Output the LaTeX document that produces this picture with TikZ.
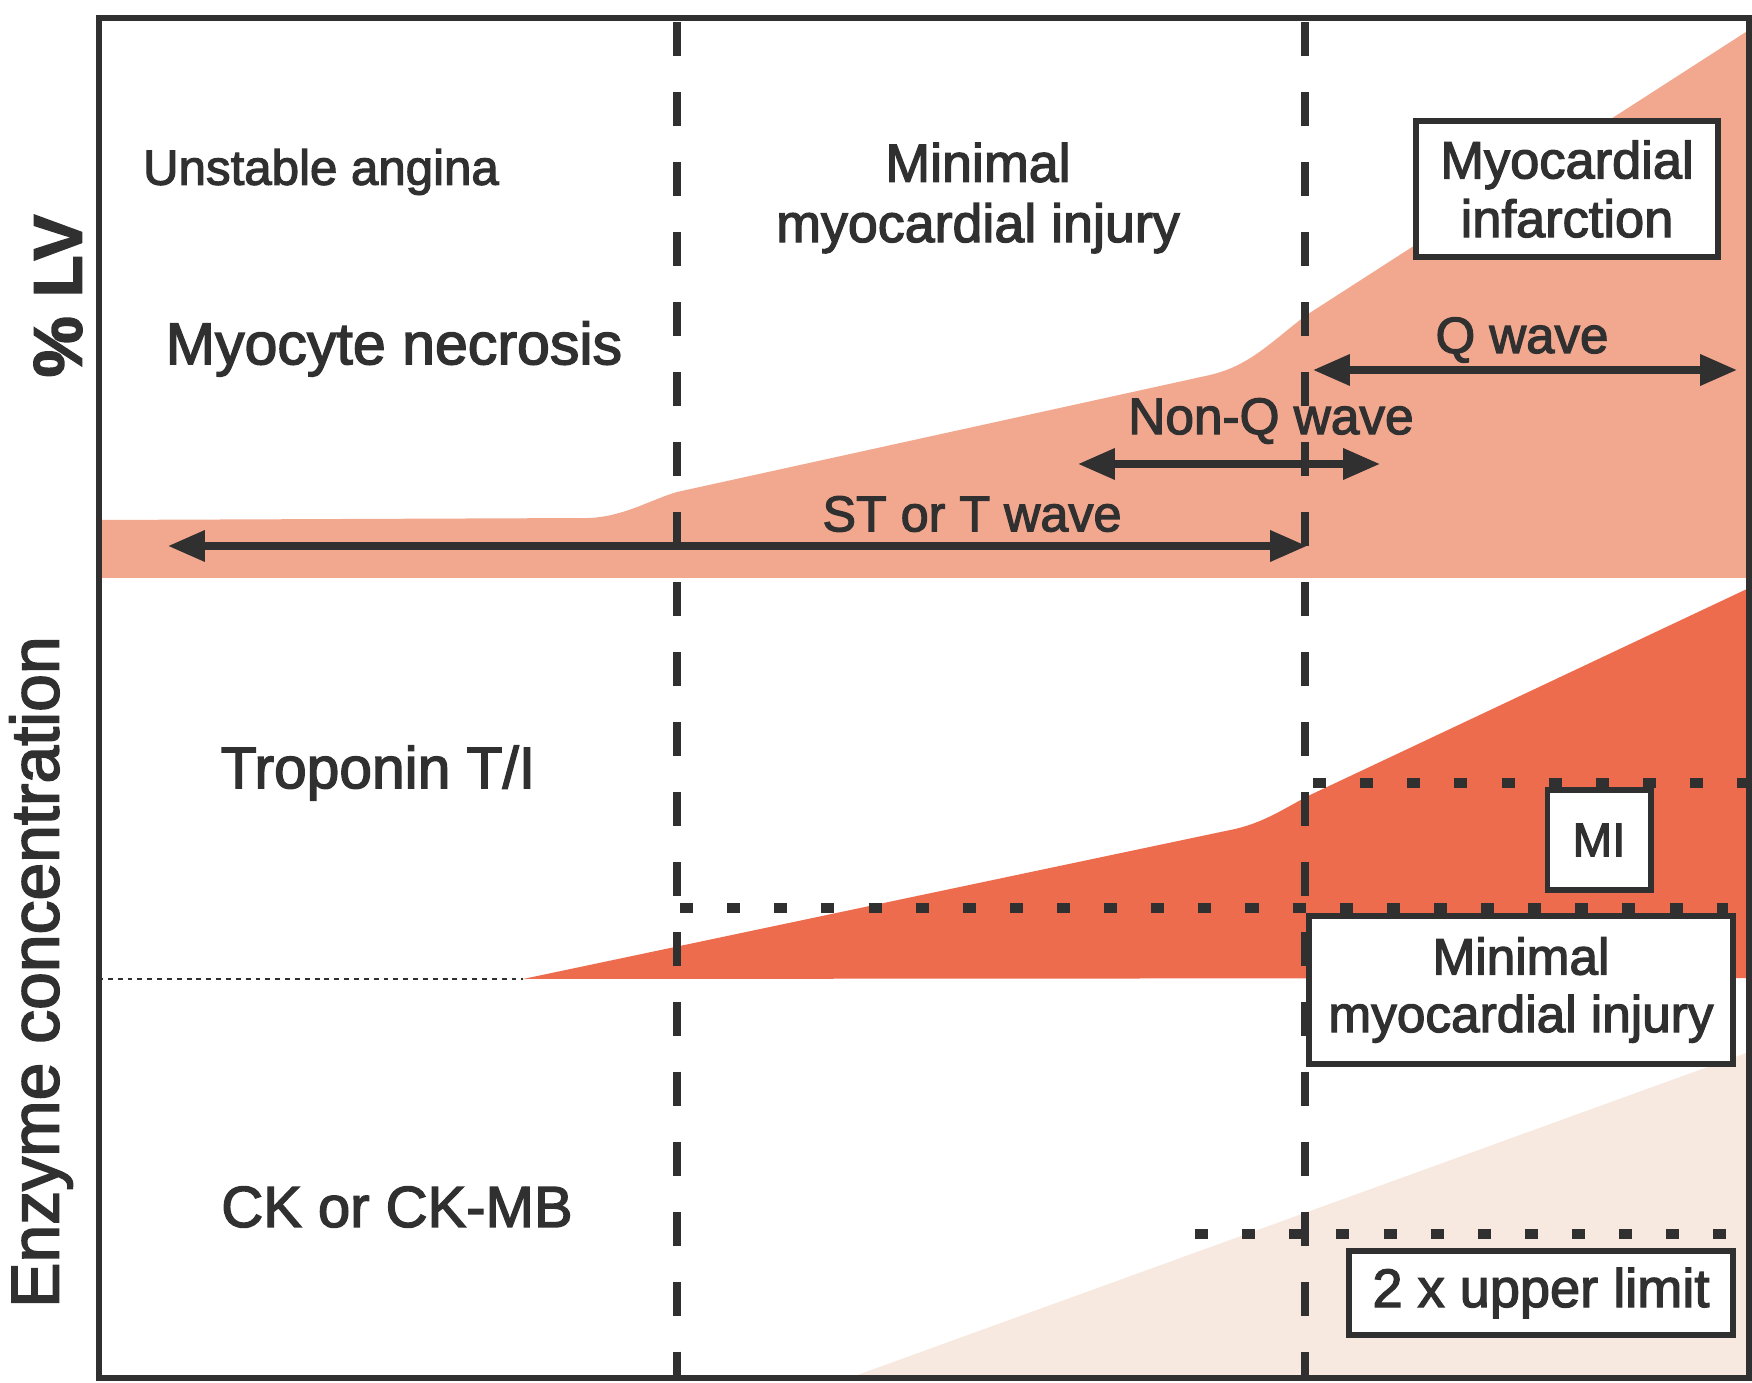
\documentclass[tikz,border=0pt]{standalone}
\usepackage{fontspec}
\setmainfont{Liberation Sans}[FakeBold=2.4]
\usetikzlibrary{arrows.meta}

\definecolor{necrosis}{RGB}{241,168,143}
\definecolor{troponin}{RGB}{237,108,78}
\definecolor{ckmb}{RGB}{247,233,223}
\definecolor{ink}{RGB}{48,48,48}

\tikzset{
  zone/.style={draw=ink, line width=2.3pt, dash pattern=on 9.7pt off 10.2pt},
  limit/.style={draw=ink, line width=2.8pt, dash pattern=on 3.7pt off 9.7pt},
  wave/.style={draw=ink, line width=2pt,
    {Triangle[length=10.5pt,width=8.5pt]}-{Triangle[length=10.5pt,width=8.5pt]}},
  tag/.style={draw=ink, text=ink, line width=1.7pt, fill=white, inner sep=0pt, align=center},
  label/.style={text=ink, align=center},
}
\newcommand{\sz}[1]{\fontsize{#1}{1.12\dimexpr #1pt\relax}\selectfont}

\begin{document}
\begin{tikzpicture}[x=0.01cm, y=-0.01cm]
  \useasboundingbox (0,0) rectangle (1752,1383);

  % --- upper panel: % LV ---
  \fill[necrosis] (98,520) -- (590,518) .. controls (625,516) and (650,500) .. (677,492)
    -- (1210,375) .. controls (1248,366) and (1268,345) .. (1305,316)
    -- (1749,30) -- (1749,578) -- (98,578) -- cycle;

  % --- lower panel: enzymes ---
  \fill[troponin] (523,979) -- (1235,829) .. controls (1265,822) and (1285,808) .. (1310,795)
    -- (1749,588) -- (1749,978) -- cycle;
  \fill[ckmb] (849,1378) -- (1749,1052) -- (1749,1378) -- cycle;
  \draw[ink, line width=0.85pt, dash pattern=on 1.4pt off 1.4pt] (98,979) -- (523,979);

  % zone borders
  \draw[zone] (677,22) -- (677,1378);
  \draw[zone] (1305,22) -- (1305,1378);

  % detection limits
  \draw[limit] (1313,783) -- (1749,783);
  \draw[limit] (680,908) -- (1728,908);
  \draw[limit] (1195,1234) -- (1728,1234);

  % ECG arrows
  \coordinate (stL) at (168,546);
  \coordinate (stR) at (1307,546);
  \coordinate (nqL) at (1078,464);
  \coordinate (nqR) at (1380,464);
  \coordinate (qL) at (1313,370);
  \coordinate (qR) at (1737,370);
  \draw[wave] (stL) -- (stR);
  \draw[wave] (nqL) -- (nqR);
  \draw[wave] (qL) -- (qR);

  \node[label, font=\sz{14.3}] (st) at (972,514) {ST or T wave};
  \node[label, font=\sz{14.6}] (nq) at (1271,421) {Non-Q wave};
  \node[label, font=\sz{14.5}] (qw) at (1522,340) {Q wave};

  % zone names
  \node[label, font=\sz{14}] (ua) at (321,172) {Unstable angina};
  \node[label, font=\sz{15.3}] (mmi) at (978,198) {Minimal\\myocardial injury};
  \node[tag, font=\sz{14.9}, minimum width=3.01cm, minimum height=1.36cm] (mi) at (1567,189)
    {Myocardial\\infarction};

  % row names
  \node[label, font=\sz{16.8}] (necro) at (394,349) {Myocyte necrosis};
  \node[label, font=\sz{16.7}] (trop) at (378,773) {Troponin T/I};
  \node[label, font=\sz{16.5}] (ck) at (397,1207) {CK or CK-MB};

  % thresholds
  \node[tag, font=\sz{13.5}, minimum width=1.03cm, minimum height=1.0cm] (mibox) at (1599,840) {MI};
  \node[tag, font=\sz{14.6}, minimum width=4.23cm, minimum height=1.48cm] (minbox) at (1521,990)
    {Minimal\\myocardial injury};
  \node[tag, font=\sz{15.4}, minimum width=3.83cm, minimum height=0.83cm] (ulbox) at (1541,1293)
    {2 x upper limit};

  % axis titles
  \node[label, font=\bfseries\sz{19.5}, rotate=90] (lv) at (58,296) {\% LV};
  \node[label, font=\sz{19.3}, rotate=90] (enz) at (41,972) {Enzyme concentration};

  % frame
  \draw[ink, line width=1.6pt] (99,18) rectangle (1749,1378);
\end{tikzpicture}
\end{document}
